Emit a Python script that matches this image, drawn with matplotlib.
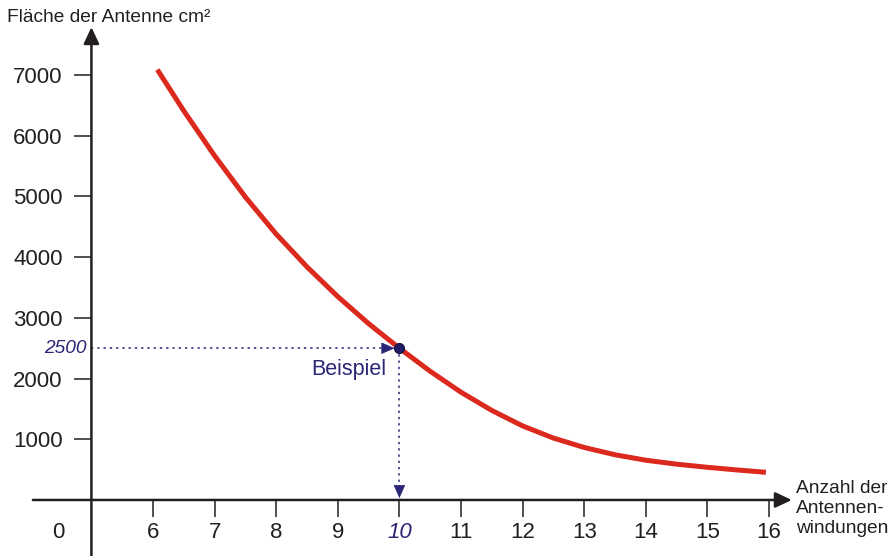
import matplotlib.pyplot as plt

plt.rcParams['font.family'] = ['Liberation Sans', 'DejaVu Sans']

# values
windungen = [6.07, 6.5, 7, 7.5, 8, 8.5, 9, 9.5, 10, 10.5, 11, 11.5, 12,
             12.5, 13, 13.5, 14, 14.5, 15, 15.5, 15.95]
flaeche = [7090, 6410, 5670, 4990, 4380, 3840, 3350, 2905, 2500, 2120, 1775,
           1475, 1220, 1020, 865, 745, 655, 590, 538, 493, 456]

x_ticks = list(range(6, 17))
y_ticks = [1000, 2000, 3000, 4000, 5000, 6000, 7000]
bsp_n, bsp_a = 10, 2500

ink = '#231f20'
navy = '#2b2576'
red = '#dc291e'

fig = plt.figure(figsize=(8.91, 5.56), dpi=100)
ax = fig.add_axes([0, 0, 1, 1])
ax.set_xlim(3.516, 17.98)
ax.set_ylim(-923, 8237)

for s in ['top', 'right', 'left', 'bottom']:
    ax.spines[s].set_visible(False)
ax.spines['left'].set_position(('data', 5))
ax.spines['bottom'].set_position(('data', 0))

# axes with arrow heads
head = '-|>,head_length=1.0,head_width=0.47'
ax.annotate('', xy=(5, 7790), xytext=(5, -923),
            arrowprops=dict(arrowstyle=head, mutation_scale=10, lw=1.8,
                            color=ink, shrinkA=0, shrinkB=0))
ax.annotate('', xy=(16.37, 0), xytext=(4.05, 0),
            arrowprops=dict(arrowstyle=head, mutation_scale=10, lw=1.8,
                            color=ink, shrinkA=0, shrinkB=0))

# ticks
ax.set_xticks([4.46] + x_ticks, labels=['0'] + [str(t) for t in x_ticks])
ax.set_yticks(y_ticks, labels=[str(t) for t in y_ticks])
ax.tick_params(axis='both', direction='out', length=12.2, width=1.1,
               color=ink, labelsize=16, labelcolor=ink)
ax.tick_params(axis='x', pad=3.5)
ax.tick_params(axis='y', pad=8.5)
ax.xaxis.get_major_ticks()[0].tick1line.set_visible(False)
i10 = x_ticks.index(bsp_n) + 1
lab = ax.get_xticklabels()[i10]
lab.set_style('italic')
lab.set_color(navy)

# curve
ax.plot(windungen, flaeche, color=red, lw=3.6, solid_capstyle='butt',
        solid_joinstyle='round', zorder=3)

# example: dotted guides with arrow heads
dots = (0, (1.5, 2.6))
ax.plot([5, bsp_n - 0.3], [bsp_a, bsp_a], color=navy, lw=1.1, ls=dots)
ax.plot([bsp_n, bsp_n], [bsp_a, 200], color=navy, lw=1.1, ls=dots)
small = '-|>,head_length=0.86,head_width=0.38'
ax.annotate('', xy=(bsp_n, bsp_a), xytext=(-13, 0), textcoords='offset points',
            arrowprops=dict(arrowstyle=small, mutation_scale=10, lw=0.5,
                            color=navy, shrinkA=0, shrinkB=3.5))
ax.annotate('', xy=(bsp_n, 0), xytext=(0, 10.5), textcoords='offset points',
            arrowprops=dict(arrowstyle=small, mutation_scale=10, lw=0.5,
                            color=navy, shrinkA=0, shrinkB=1.3))
ax.plot([bsp_n], [bsp_a], 'o', ms=7.2, color='#221c66', mec='#15123f',
        mew=0.8, zorder=4)

ax.annotate(str(bsp_a), xy=(5, bsp_a), xytext=(-3.5, 0),
            textcoords='offset points', ha='right', va='center',
            fontsize=13.8, style='italic', color=navy)
ax.annotate('Beispiel', xy=(bsp_n, bsp_a), xytext=(-9.4, -15),
            textcoords='offset points', ha='right', va='center',
            fontsize=15.5, color=navy)

# axis titles
fig.text(7 / 891, 1 - 17 / 556, 'Fläche der Antenne cm²', fontsize=13.8,
         color=ink, ha='left', va='center')
fig.text(796 / 891, 1 - 508.5 / 556, 'Anzahl der\nAntennen-\nwindungen',
         fontsize=13.8, color=ink, ha='left', va='center', linespacing=1.25)

fig.savefig('out.png', dpi=100)
